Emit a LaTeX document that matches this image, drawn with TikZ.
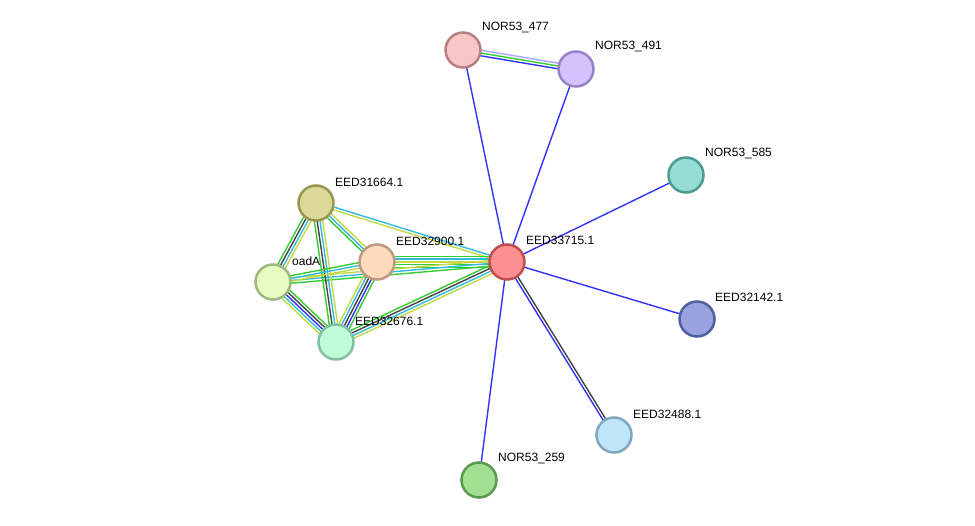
\documentclass[tikz,border=0pt]{standalone}
\usepackage{fontspec}
\setmainfont{Liberation Sans}
\usetikzlibrary{calc}
\pgfdeclarelayer{bg}\pgfdeclarelayer{paper}\pgfsetlayers{paper,bg,main}
\definecolor{eg}{HTML}{33CC33}
\definecolor{ey}{HTML}{C4D944}
\definecolor{ec}{HTML}{33BBDD}
\definecolor{ek}{HTML}{444444}
\definecolor{eb}{HTML}{3333FF}
\definecolor{el}{HTML}{A8A8FF}
\tikzset{
 prot/.style={circle, minimum size=35pt, inner sep=0pt, line width=2.5pt},
 lab/.style={anchor=west, font=\fontsize{12}{14}\selectfont, inner sep=0pt},
 ln/.style={line width=1.4pt}
}
\newcommand\medge[3]{%
 \begin{pgfonlayer}{bg}
 \foreach \c [count=\n] in {#3} {\xdef\nn{\n}}
 \foreach \c [count=\i] in {#3} {
   \pgfmathsetmacro\off{(\i-(\nn+1)/2)*2.8}
   \draw[ln, \c] ($(#1)!\off pt!90:(#2)$) -- ($(#2)!\off pt!-90:(#1)$);
 }
 \end{pgfonlayer}}
\begin{document}
\begin{tikzpicture}[x=1pt,y=-1pt]
\begin{pgfonlayer}{paper}
\fill[white] (0,0) rectangle (975,526);
\end{pgfonlayer}
\useasboundingbox (0,0) rectangle (975,526);
\node[prot, fill={rgb,255:red,248;green,198;blue,198}, draw={rgb,255:red,184;green,128;blue,128}] (a) at (463,50) {};
\node[prot, fill={rgb,255:red,212;green,194;blue,252}, draw={rgb,255:red,154;green,130;blue,200}] (b) at (576,69) {};
\node[prot, fill={rgb,255:red,150;green,221;blue,214}, draw={rgb,255:red,76;green,155;blue,147}] (c) at (686,175) {};
\node[prot, fill={rgb,255:red,252;green,144;blue,144}, draw={rgb,255:red,192;green,80;blue,80}] (h) at (507,262) {};
\node[prot, fill={rgb,255:red,154;green,162;blue,224}, draw={rgb,255:red,80;green,96;blue,160}] (d) at (697,319) {};
\node[prot, fill={rgb,255:red,192;green,230;blue,252}, draw={rgb,255:red,128;green,168;blue,192}] (e) at (614,435) {};
\node[prot, fill={rgb,255:red,160;green,224;blue,144}, draw={rgb,255:red,90;green,154;blue,80}] (f) at (479,480) {};
\node[prot, fill={rgb,255:red,220;green,216;blue,152}, draw={rgb,255:red,154;green,150;blue,80}] (g) at (316,203) {};
\node[prot, fill={rgb,255:red,230;green,252;blue,192}, draw={rgb,255:red,160;green,184;blue,128}] (o) at (273,282) {};
\node[prot, fill={rgb,255:red,252;green,220;blue,188}, draw={rgb,255:red,192;green,154;blue,128}] (p) at (377,262) {};
\node[prot, fill={rgb,255:red,192;green,252;blue,216}, draw={rgb,255:red,128;green,192;blue,160}] (q) at (336,342) {};
\node[lab] (al) at (482,28) {NOR53\_477};
\node[lab] (bl) at (595,47) {NOR53\_491};
\node[lab] (cl) at (705,154) {NOR53\_585};
\node[lab] (hl) at (526,240) {EED33715.1};
\node[lab] (dl) at (715,297) {EED32142.1};
\node[lab] (el) at (633,414) {EED32488.1};
\node[lab] (fl) at (498,459) {NOR53\_259};
\node[lab] (gl) at (335,182) {EED31664.1};
\node[lab] (ol) at (292,261) {oadA};
\node[lab] (pl) at (396,241) {EED32900.1};
\node[lab] (ql) at (355,321) {EED32676.1};
\medge{h}{a}{eb}
\medge{h}{b}{eb}
\medge{h}{c}{eb}
\medge{h}{d}{eb}
\medge{h}{f}{eb}
\medge{h}{e}{eb,ek}
\medge{a}{b}{eb,eg,el}
\medge{g}{h}{ey,ec}
\medge{p}{h}{eg,eg,ey,ec,eg}
\medge{o}{h}{eg,ec,ey}
\medge{q}{h}{ey,ec,ek,eg}
\medge{g}{o}{eg,ek,ec,ey}
\medge{g}{q}{eg,ek,ec,ey}
\medge{g}{p}{eg,ec,ey}
\medge{o}{p}{ey,ec,eg}
\medge{o}{q}{ey,ec,eb,ek,eg}
\medge{p}{q}{ey,ec,ek,eb,eg}
\end{tikzpicture}
\end{document}
